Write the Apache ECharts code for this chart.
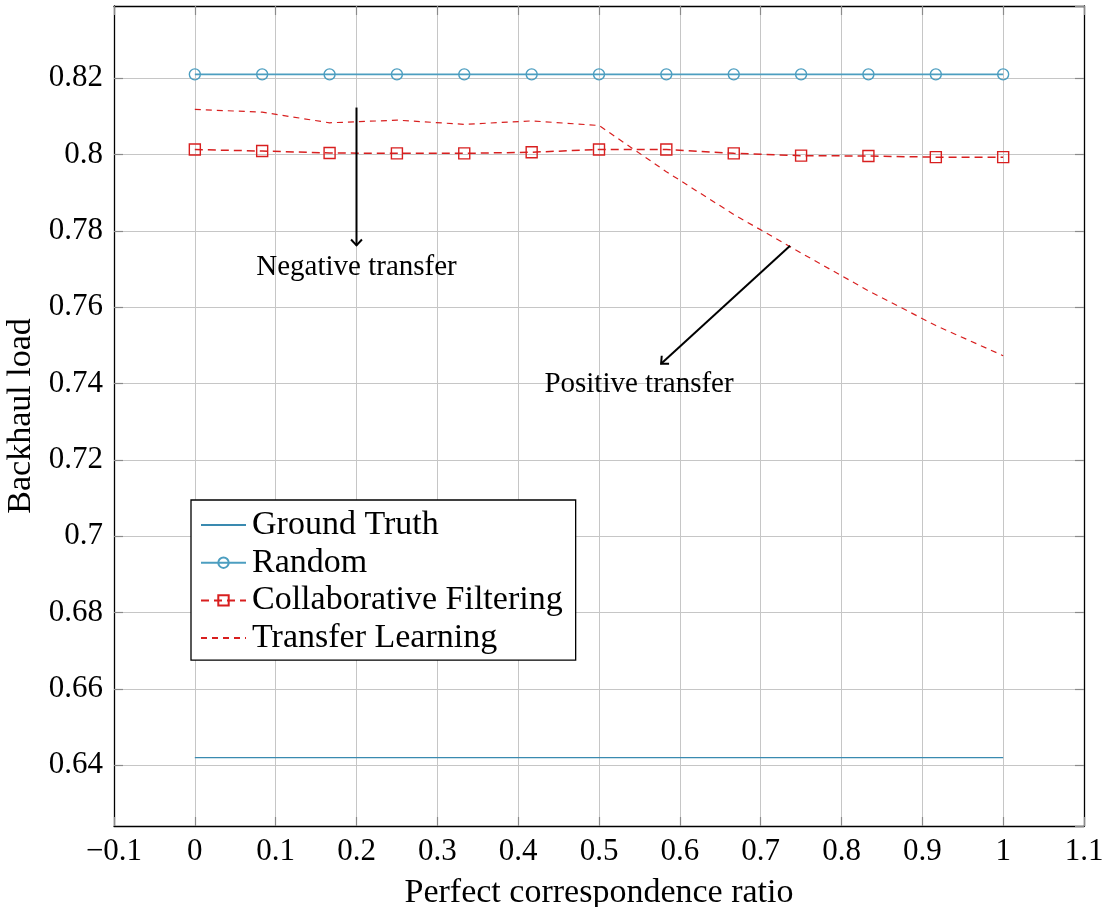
<!DOCTYPE html>
<html><head><meta charset="utf-8">
<script src="https://cdn.jsdelivr.net/npm/echarts@6/dist/echarts.min.js"></script>
<style>html,body{margin:0;padding:0;background:#fff}#c{width:1104px;height:907px}</style>
</head><body><div id="c"></div>
<script>
const ratios = [0, 0.0833, 0.1667, 0.25, 0.3333, 0.4167, 0.5, 0.5833, 0.6667, 0.75, 0.8333, 0.9167, 1];
const groundTruth = [0.642, 0.642, 0.642, 0.642, 0.642, 0.642, 0.642, 0.642, 0.642, 0.642, 0.642, 0.642, 0.642];
const random = [0.821, 0.821, 0.821, 0.821, 0.821, 0.821, 0.821, 0.821, 0.821, 0.821, 0.821, 0.821, 0.821];
const collaborative = [0.8013, 0.8009, 0.8004, 0.8003, 0.8003, 0.8006, 0.8013, 0.8013, 0.8003, 0.7997, 0.7996, 0.7993, 0.7993];
const transfer = [0.8118, 0.8111, 0.8083, 0.8090, 0.8079, 0.8088, 0.8076, 0.7955, 0.7843, 0.7742, 0.7643, 0.7552, 0.7473];
const xTicks = ['\u22120.1', '0', '0.1', '0.2', '0.3', '0.4', '0.5', '0.6', '0.7', '0.8', '0.9', '1', '1.1'];
const yTicks = ['0.64', '0.66', '0.68', '0.7', '0.72', '0.74', '0.76', '0.78', '0.8', '0.82'];
const seriesNames = ['Ground Truth', 'Random', 'Collaborative Filtering', 'Transfer Learning'];
const annotations = [
  { text: 'Negative transfer', from: [0.2, 0.8123], to: [0.2, 0.7762], label: [0.2, 0.7704] },
  { text: 'Positive transfer', from: [0.7364, 0.7761], to: [0.5768, 0.7452], label: [0.5495, 0.7397] }
];

const FONT = "'Liberation Serif', 'Times New Roman', serif";
const pair = (ys) => ratios.map((x, i) => [x, ys[i]]);
const findLabel = (list, v) => {
  for (const s of list) { if (Math.abs(parseFloat(s.replace('\u2212', '-')) - v) < 1e-6) return s; }
  return '';
};
const gridColor = '#c6c6c6';
const tickColor = '#8a8a8a';
const cyanDark = '#3a8ab0';
const cyan = '#4c9ec0';
const red = '#d81f1f';
const clear = 'rgba(0,0,0,0)';

const chart = echarts.init(document.getElementById('c'), null, { renderer: 'canvas' });
const xBase = {
  type: 'value', min: -0.1, max: 1.1, interval: 0.1,
  axisLine: { show: true, onZero: false, lineStyle: { color: '#000', width: 1.3 } },
  axisTick: { show: true, inside: true, length: 9, lineStyle: { color: tickColor, width: 1.2 } }
};
const yBase = {
  type: 'value', min: 0.6241, max: 0.8389, splitNumber: 11,
  axisLine: { show: true, onZero: false, lineStyle: { color: '#000', width: 1.3 } },
  axisTick: { show: true, inside: true, length: 9, lineStyle: { color: tickColor, width: 1.2 } }
};
chart.setOption({
  animation: false,
  backgroundColor: '#fff',
  grid: { left: 114, right: 20, top: 6, bottom: 81, containLabel: false, outerBoundsMode: 'none' },
  xAxis: [
    Object.assign({}, xBase, {
      position: 'bottom',
      name: 'Perfect correspondence ratio', nameLocation: 'middle', nameGap: 50,
      nameTextStyle: { fontFamily: FONT, fontSize: 34, color: '#000' },
      axisLabel: { fontFamily: FONT, fontSize: 31, color: '#000', margin: 10, formatter: v => findLabel(xTicks, v) },
      splitLine: { show: true, lineStyle: { color: gridColor, width: 1 } }
    }),
    Object.assign({}, xBase, { position: 'top', axisLabel: { show: false }, splitLine: { show: false } })
  ],
  yAxis: [
    Object.assign({}, yBase, {
      position: 'left',
      name: 'Backhaul load', nameLocation: 'middle', nameGap: 76,
      nameTextStyle: { fontFamily: FONT, fontSize: 34, color: '#000' },
      axisLabel: { fontFamily: FONT, fontSize: 31, color: '#000', margin: 11, showMinLabel: false, showMaxLabel: false, formatter: v => findLabel(yTicks, v) },
      splitLine: { show: true, lineStyle: { color: gridColor, width: 1 } }
    }),
    Object.assign({}, yBase, { position: 'right', axisLabel: { show: false }, splitLine: { show: false } })
  ],
  legend: {
    orient: 'vertical', left: 191, top: 500,
    backgroundColor: '#fff', borderColor: '#000', borderWidth: 1.3,
    padding: [8, 13, 5, 9], itemGap: 3.7, itemWidth: 45, itemHeight: 13,
    textStyle: { fontFamily: FONT, fontSize: 34, color: '#000', padding: [0, 0, 0, 1] },
    data: seriesNames
  },
  series: [
    { name: seriesNames[0], type: 'line', data: pair(groundTruth), symbol: 'none', color: cyanDark,
      lineStyle: { color: cyanDark, width: 1.3 },
      itemStyle: { color: clear, borderColor: clear, borderWidth: 0 } },
    { name: seriesNames[1], type: 'line', data: pair(random), symbol: 'circle', symbolSize: 11, color: cyan,
      lineStyle: { color: cyan, width: 1.6 },
      itemStyle: { color: clear, borderColor: cyan, borderWidth: 1.4 } },
    { name: seriesNames[2], type: 'line', data: pair(collaborative), symbol: 'rect', symbolSize: 11, color: red,
      lineStyle: { color: red, width: 1.5, type: [8, 5] },
      itemStyle: { color: clear, borderColor: red, borderWidth: 1.4 } },
    { name: seriesNames[3], type: 'line', data: pair(transfer), symbol: 'none', color: red,
      lineStyle: { color: red, width: 1.2, type: [6, 5] },
      itemStyle: { color: clear, borderColor: clear, borderWidth: 0 } }
  ]
});

const px = (p) => chart.convertToPixel({ xAxisIndex: 0, yAxisIndex: 0 }, p);
const graphics = [];
annotations.forEach(a => {
  const s = px(a.from), e = px(a.to), l = px(a.label);
  const ang = Math.atan2(e[1] - s[1], e[0] - s[0]);
  const hl = 8, spread = Math.PI / 4.2;
  const p1 = [e[0] - hl * Math.cos(ang - spread), e[1] - hl * Math.sin(ang - spread)];
  const p2 = [e[0] - hl * Math.cos(ang + spread), e[1] - hl * Math.sin(ang + spread)];
  graphics.push({ type: 'line', z: 100, shape: { x1: s[0], y1: s[1], x2: e[0], y2: e[1] }, style: { stroke: '#000', lineWidth: 2 } });
  graphics.push({ type: 'polyline', z: 100, shape: { points: [p1, e, p2] }, style: { stroke: '#000', lineWidth: 2, fill: null } });
  graphics.push({ type: 'text', z: 100, x: l[0], y: l[1], style: { text: a.text, fontFamily: FONT, fontSize: 29, fill: '#000', align: 'center', verticalAlign: 'middle' } });
});
chart.setOption({ graphic: graphics });
</script>
</body></html>
